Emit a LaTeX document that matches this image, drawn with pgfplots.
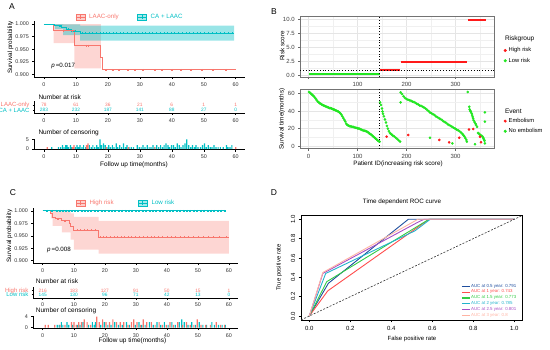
\documentclass[border=0pt]{standalone}
\usepackage{fontspec}
\setmainfont{Liberation Sans}
\usepackage{pgfplots}
\pgfplotsset{compat=1.18}
\definecolor{kmred}{HTML}{F8766D}
\definecolor{kmcyan}{HTML}{00BFC4}
\definecolor{bgreen}{HTML}{22E622}
\definecolor{bred}{HTML}{FF1A1A}
\definecolor{r1}{HTML}{1F4E9E}
\definecolor{r2}{HTML}{FF4D4D}
\definecolor{r3}{HTML}{33CC44}
\definecolor{r4}{HTML}{22B3CC}
\definecolor{r5}{HTML}{A64DC4}
\definecolor{r6}{HTML}{FFB3A3}
\newcommand{\fs}[1]{\fontsize{#1}{#1}\selectfont}
\pgfplotsset{
 base/.style={scale only axis, anchor=south west, /pgf/number format/assume math mode=true},
 gg/.style={base, axis x line*=bottom, axis y line*=left, axis line style={black, line width=0.5pt, -},
   tick align=outside, major tick length=2pt, tick style={black, line width=0.45pt},
   xmin=-3, xmax=63, xtick={0,10,...,60}, tick label style={font=\fs{5.4}, text=black!80}},
 bw/.style={base, axis line style={black!55, line width=0.5pt}, tick pos=left, tick align=outside,
   major tick length=2pt, minor tick length=0pt, tick style={black!60, line width=0.45pt},
   xmin=-17, xmax=380, grid=both, major grid style={black!10, line width=0.45pt},
   minor grid style={black!6, line width=0.25pt}, tick label style={font=\fs{6}, text=black!75}},
 rr/.style={base, axis line style={black, line width=0.5pt}, tick pos=left, tick align=outside,
   major tick length=2.5pt, tick style={black, line width=0.45pt},
   xmin=-0.04, xmax=1.04, ymin=-0.04, ymax=1.04,
   xtick={0,0.2,0.4,0.6,0.8,1}, xticklabels={0.0,0.2,0.4,0.6,0.8,1.0},
   ytick={0,0.2,0.4,0.6,0.8,1}, yticklabels={0.0,0.2,0.4,0.6,0.8,1.0},
   tick label style={font=\fs{6}}, yticklabel style={rotate=90, anchor=south}},
 kmkey/.style={legend image code/.code={\fill[#1, fill opacity=0.35] (0pt,-3pt) rectangle (9pt,3pt);
   \draw[#1, line width=0.9pt] (0pt,0pt)--(9pt,0pt); \draw[#1, line width=0.4pt] (4.5pt,-1.6pt)--(4.5pt,1.6pt);}},
 dotkey/.style={legend image code/.code={\fill[#1] (2.5pt,0pt) circle (1.3pt);}},
 rockey/.style={legend image code/.code={\draw[#1, line width=1.3pt] (0pt,0pt)--(8pt,0pt);}},
 numrow/.style={forget plot, draw=none, mark=none, nodes near coords, point meta=explicit symbolic,
   nodes near coords style={anchor=center, font=\fs{4.8}, text=#1, inner sep=0pt}},
 cens/.style={forget plot, ybar, bar width=0.38, bar shift=0pt, fill=#1, draw=none},
 cmark/.style={forget plot, only marks, mark=+, mark size=1.0pt, #1, mark options={line width=0.4pt}},
}
\begin{document}
\begin{tikzpicture}[x=1pt,y=1pt]
\path[use as bounding box] (0,0) rectangle (550,349);

% ================= Panel A =================
\begin{axis}[gg, at={(34.4pt,272.2pt)}, width=210.9pt, height=55.3pt, ymin=0.895, ymax=1.005,
  ytick={0.9,0.925,0.95,0.975,1}, yticklabels={0.900,0.925,0.950,0.975,1.000},
  legend columns=2, legend style={at={(0.453,1.081)}, anchor=center, draw=none, fill=none, font=\fs{6.2},
   /tikz/every even column/.append style={column sep=16pt}, /tikz/every odd column/.append style={column sep=2pt}}]
\addplot[forget plot, draw=none, fill=kmred, fill opacity=0.3] coordinates {(3,1)(17.8,1)(17.8,0.912)(9.5,0.912)(9.5,0.962)(3,0.962)};
\addplot[forget plot, draw=none, fill=kmcyan, fill opacity=0.4] coordinates {(3.4,1)(6,1)(6,0.9995)(11.3,0.9995)(11.3,0.9967)(59.5,0.9967)(59.5,0.967)(11.3,0.967)(11.3,0.978)(6,0.978)(6,0.99)(3.4,0.99)};
\addplot[forget plot, const plot, kmred, line width=1pt] coordinates {(0,1)(3,0.987)(9.5,0.957)(17.8,0.934)(18.3,0.909)(60,0.909)};
\addplot[forget plot, const plot, kmcyan, line width=1pt] coordinates {(0,1)(3.4,0.9965)(5.5,0.993)(7,0.9895)(8.5,0.986)(11.3,0.9815)(59.5,0.9815)};
\addplot[cmark=kmred] coordinates {(6,0.987)(8.8,0.987)(13.3,0.957)(13.8,0.957)(19.5,0.909)(21.5,0.909)(23.5,0.909)(26.4,0.909)(28.5,0.909)(31,0.909)(34.7,0.909)(37,0.909)(40,0.909)(43,0.909)(46,0.909)(49.5,0.909)(53,0.909)(57,0.909)};
\addplot[cmark=kmcyan] coordinates {(5,0.9965)(7.5,0.9895)(9.8,0.986)(12,0.9815)(13,0.9815)(14.2,0.9815)(15,0.9815)(16.3,0.9815)(17.5,0.9815)(18.4,0.9815)(19.6,0.9815)(20.5,0.9815)(21.8,0.9815)(22.6,0.9815)(23.9,0.9815)(24.8,0.9815)(26,0.9815)(27.2,0.9815)(28.5,0.9815)(29.6,0.9815)(30.6,0.9815)(31.8,0.9815)(32.9,0.9815)(34,0.9815)(35.1,0.9815)(36.3,0.9815)(37.5,0.9815)(38.6,0.9815)(39.8,0.9815)(40.9,0.9815)(42,0.9815)(43.2,0.9815)(44.4,0.9815)(45.5,0.9815)(46.7,0.9815)(47.8,0.9815)(49,0.9815)(50.2,0.9815)(51.3,0.9815)(52.5,0.9815)(53.8,0.9815)(55,0.9815)(56.3,0.9815)(57.6,0.9815)(58.8,0.9815)};
\addlegendimage{kmkey=kmred}\addlegendentry{\textcolor{kmred}{LAAC-only}}
\addlegendimage{kmkey=kmcyan}\addlegendentry{\textcolor{kmcyan}{CA + LAAC}}
\node[anchor=west, font=\fs{6.2}] at (axis cs:1.2,0.917) {\textit{p}\,=0.017};
\end{axis}

\begin{axis}[gg, at={(34.4pt,235.7pt)}, width=210.9pt, height=12pt, ymin=0, ymax=1, major tick length=1.5pt,
  ytick={0.275,0.67}, yticklabels={\textcolor{kmcyan}{CA + LAAC},\textcolor{kmred}{LAAC-only}}, yticklabel style={font=\fs{6}}]
\addplot[numrow=kmred] coordinates {(0,0.67)[78] (10,0.67)[61] (20,0.67)[36] (30,0.67)[21] (40,0.67)[6] (50,0.67)[1] (60,0.67)[1]};
\addplot[numrow=kmcyan] coordinates {(0,0.275)[283] (10,0.275)[232] (20,0.275)[187] (30,0.275)[141] (40,0.275)[88] (50,0.275)[27] (60,0.275)[0]};
\end{axis}

\begin{axis}[gg, at={(34.4pt,199.5pt)}, width=210.9pt, height=10.5pt, ymin=-0.25, ymax=5.25, ytick={0,5}]
\addplot[cens=kmcyan] coordinates {(2.4,1)(4.5,1)(5.2,1)(5.8,2)(6.3,1)(6.8,2)(7.2,2)(7.7,1)(8.3,2)(8.8,1)(9.8,1)(10.3,2)(10.8,1)(11.3,2)(11.9,1)(12.4,2)(13.1,1)(14.2,2)(14.8,1)(15.3,2)(15.9,1)(16.5,2)(17.0,1)(17.5,5)(18.0,2)(18.6,3)(19.2,2)(19.7,1)(20.3,2)(20.8,1)(21.4,2)(21.9,1)(22.6,3)(23.1,1)(23.7,2)(24.3,1)(24.9,3)(25.5,1)(26.0,2)(26.6,1)(27.3,1)(28.0,1)(29.2,2)(29.8,1)(30.4,1)(31.0,2)(31.6,1)(32.3,2)(32.9,1)(33.5,1)(34.1,2)(34.7,1)(35.3,2)(35.9,1)(36.5,2)(37.1,1)(37.6,2)(38.2,3)(38.8,2)(39.3,1)(39.9,2)(40.5,2)(41.1,1)(41.7,3)(42.3,2)(42.9,1)(43.5,2)(44.1,3)(44.7,5)(45.3,2)(45.9,1)(46.5,2)(47.1,1)(47.6,2)(48.2,1)(49.0,1)(49.6,2)(50.2,3)(50.8,1)(51.4,2)(52.0,1)(52.6,1)(53.2,2)(53.8,1)(54.5,1)(55.2,1)(56.1,1)(57.1,2)(57.6,1)(58.2,1)(58.8,2)};
\addplot[cens=kmred] coordinates {(1.0,1)(8.9,1)(9.4,2)(13.3,2)(13.8,3)(19.5,1)(26.4,1)(34.7,1)(60,1)};
\end{axis}

\node[font=\fs{8.5}] at (12,342) {A};
\node[rotate=90, font=\fs{6.3}] at (10.5,301.5) {Survival probability};
\node[anchor=west, font=\fs{6.5}] at (35,252.3) {Number at risk};
\node[anchor=west, font=\fs{6.5}] at (35,216.3) {Number of censoring};
\node[font=\fs{6.5}] at (134,184.5) {Follow up time(months)};

% ================= Panel C =================
\begin{axis}[gg, at={(33.4pt,85.8pt)}, width=204.9pt, height=54.9pt, ymin=0.895, ymax=1.005,
  ytick={0.9,0.925,0.95,0.975,1}, yticklabels={0.900,0.925,0.950,0.975,1.000},
  legend columns=2, legend style={at={(0.452,1.097)}, anchor=center, draw=none, fill=none, font=\fs{6.2},
   /tikz/every even column/.append style={column sep=22pt}, /tikz/every odd column/.append style={column sep=2pt}}]
\addplot[forget plot, draw=none, fill=kmred, fill opacity=0.3] coordinates {(2.6,1)(9,1)(9,0.995)(10,0.995)(10,0.988)(18,0.988)(18,0.98)(60,0.98)(60,0.914)(18,0.914)(18,0.922)(10,0.922)(10,0.942)(9,0.942)(9,0.957)(6.2,0.957)(6.2,0.970)(3.2,0.970)(3.2,0.985)(2.6,0.985)};
\addplot[forget plot, const plot, kmred, line width=1pt] coordinates {(0,1)(2.6,0.994)(3.2,0.987)(4.2,0.984)(6.2,0.980)(8.6,0.975)(9.0,0.969)(10.0,0.961)(18.0,0.947)(60,0.947)};
\addplot[forget plot, kmcyan, line width=1pt] coordinates {(0,1)(59,1)};
\addplot[cmark=kmred] coordinates {(5,0.984)(7.2,0.980)(11,0.961)(12,0.961)(13.4,0.961)(14.3,0.961)(15.5,0.961)(17,0.961)(18.6,0.947)(19.5,0.947)(20.6,0.947)(21.7,0.947)(22.9,0.947)(24,0.947)(25.2,0.947)(26.3,0.947)(27.5,0.947)(28.6,0.947)(29.8,0.947)(31,0.947)(32.3,0.947)(33.5,0.947)(34.8,0.947)(36,0.947)(37.3,0.947)(38.6,0.947)(40,0.947)(41.4,0.947)(42.8,0.947)(44.2,0.947)(45.6,0.947)(47,0.947)(48.5,0.947)(50,0.947)(51.6,0.947)(53.2,0.947)(55,0.947)(57,0.947)(59,0.947)};
\addplot[cmark=kmcyan] coordinates {(1.5,1)(3,1)(4.5,1)(5.5,1)(6.5,1)(7.5,1)(8.5,1)(9.5,1)(10.5,1)(11.5,1)(12.5,1)(13.5,1)(14.6,1)(15.7,1)(16.8,1)(17.9,1)(19,1)(20.1,1)(21.2,1)(22.3,1)(23.4,1)(24.5,1)(25.6,1)(26.7,1)(27.8,1)(28.9,1)(30,1)(31.1,1)(32.2,1)(33.3,1)(34.4,1)(35.5,1)(36.6,1)(37.7,1)(38.8,1)(39.9,1)(41,1)(42.1,1)(43.2,1)(44.3,1)(45.4,1)(46.5,1)(47.6,1)(48.7,1)(49.8,1)(50.9,1)(52,1)(53.1,1)(54.2,1)(55.3,1)(56.4,1)(57.5,1)(58.6,1)};
\addlegendimage{kmkey=kmred}\addlegendentry{\textcolor{kmred}{High risk}}
\addlegendimage{kmkey=kmcyan}\addlegendentry{\textcolor{kmcyan}{Low risk}}
\node[anchor=west, font=\fs{6.2}] at (axis cs:0.3,0.921) {\textit{p}\,=0.008};
\end{axis}

\begin{axis}[gg, at={(33.4pt,51pt)}, width=204.9pt, height=11pt, ymin=0, ymax=1, major tick length=1.5pt,
  ytick={0.32,0.68}, yticklabels={\textcolor{kmcyan}{Low risk},\textcolor{kmred}{High risk}}, yticklabel style={font=\fs{6}}]
\addplot[numrow=kmred] coordinates {(0,0.68)[216] (10,0.68)[183] (20,0.68)[127] (30,0.68)[91] (40,0.68)[50] (50,0.68)[15] (60,0.68)[1]};
\addplot[numrow=kmcyan] coordinates {(0,0.32)[145] (10,0.32)[130] (20,0.32)[96] (30,0.32)[71] (40,0.32)[42] (50,0.32)[13] (60,0.32)[0]};
\end{axis}

\begin{axis}[gg, at={(33.4pt,20.8pt)}, width=204.9pt, height=12.1pt, ymin=-0.2, ymax=4.2, ytick={0,4}]
\addplot[cens=kmcyan] coordinates {(4.7,1)(5.3,1)(6.0,2)(6.5,1)(7.8,2)(8.4,1)(9.7,1)(11.2,1)(12.0,1)(13.0,2)(14.8,1)(16.0,2)(16.6,1)(17.0,2)(18.7,1)(19.8,2)(21.0,1)(22.0,1)(23.2,2)(24.4,1)(25.6,1)(27.0,2)(28.0,1)(29.8,1)(31.0,2)(31.9,1)(33.0,1)(34.4,2)(35.6,1)(36.8,2)(38.0,1)(39.2,2)(40.4,1)(41.6,2)(42.7,1)(44.0,2)(44.8,3)(45.6,2)(46.8,1)(48.0,2)(49.2,1)(50.4,2)(51.6,1)(52.8,1)(54.5,2)(55.3,1)(56.6,1)(57.8,1)(58.8,1)};
\addplot[cens=kmred] coordinates {(0.8,1)(1.8,1)(3.9,1)(5.6,1)(7.2,1)(9.3,2)(10.1,2)(10.8,1)(11.6,2)(12.5,2)(13.4,3)(14.3,2)(15.5,1)(17.4,4)(18.2,2)(19.3,3)(20.4,2)(21.5,2)(22.6,3)(23.8,2)(25.0,2)(26.1,2)(27.5,1)(28.6,2)(29.3,3)(30.4,2)(31.5,1)(32.4,3)(33.5,2)(35.0,2)(36.2,1)(37.5,2)(38.6,1)(39.8,1)(41.0,2)(42.1,1)(43.5,2)(45.0,1)(46.3,2)(47.5,1)(48.7,1)(49.8,3)(51.0,1)(52.5,1)(54,1)(55.9,2)(57.3,1)(58.6,1)};
\end{axis}

\node[font=\fs{8.5}] at (13,156) {C};
\node[rotate=90, font=\fs{6.3}] at (9.5,113) {Survival probability};
\node[anchor=west, font=\fs{6.5}] at (32.3,68) {Number at risk};
\node[anchor=west, font=\fs{6.5}] at (32.3,38) {Number of censoring};
\node[font=\fs{6.5}] at (132.5,8.3) {Follow up time(months)};

% ================= Panel B =================
\begin{axis}[bw, at={(300.2pt,272.2pt)}, width=194.5pt, height=60.6pt, ymin=-0.2, ymax=10.5,
  xtick={0,100,200,300}, xticklabels={,100,200,300}, minor xtick={50,150,250,350},
  ytick={0,2.5,5,7.5,10}, yticklabels={0.0,2.5,5.0,7.5,10.0}, minor ytick={1.25,3.75,6.25,8.75},
  legend style={at={(1.03,0.55)}, anchor=north west, draw=none, fill=none, font=\fs{5.8}, row sep=0.5pt}, legend cell align=left]
\addplot[forget plot, bgreen, line width=1.7pt] coordinates {(1,0.3)(145,0.3)};
\addplot[forget plot, bred, line width=1.7pt] coordinates {(146,1.0)(187,1.0)};
\addplot[forget plot, bred, line width=1.7pt] coordinates {(188,2.42)(324,2.42)};
\addplot[forget plot, bred, line width=1.7pt] coordinates {(325,9.77)(362,9.77)};
\addplot[forget plot, black, line width=0.6pt, dash pattern=on 0.8pt off 2pt] coordinates {(-17,1)(380,1)};
\addplot[forget plot, black, line width=0.6pt, dash pattern=on 0.8pt off 2pt] coordinates {(144.5,-0.2)(144.5,10.5)};
\addlegendimage{dotkey=bred}\addlegendentry{High risk}
\addlegendimage{dotkey=bgreen}\addlegendentry{Low risk}
\end{axis}

\begin{axis}[bw, at={(300.2pt,200.4pt)}, width=194.5pt, height=59.6pt, ymin=-3, ymax=65.4,
  xtick={0,100,200,300}, minor xtick={50,150,250,350},
  ytick={0,20,40,60}, minor ytick={10,30,50},
  legend style={at={(1.03,0.58)}, anchor=north west, draw=none, fill=none, font=\fs{5.8}, row sep=0.5pt}, legend cell align=left]
\addplot[forget plot, only marks, mark=*, mark size=1.1pt, bgreen] coordinates {(1,62)(3,61)(5,60)(7,59)(9,58)(11,57)(13,55.5)(15,54)(17,52.5)(19,51)(21,50)(23,49)(25,48.5)(27,47.5)(29,47)(31,46.5)(33,46)(35,45.5)(37,45)(39,44.5)(41,44)(43,43.5)(45,43.5)(47,43)(49,42.5)(51,42)(53,41.5)(55,41)(57,40.5)(59,40)(61,39.5)(63,38.5)(65,37.5)(67,36)(69,34)(71,32)(73,30)(75,28)(77,25.5)(79,24)(81,23.5)(83,23)(85,22.5)(87,22.5)(89,22)(91,22)(93,21.5)(95,21)(97,21)(99,20.5)(101,20)(103,20)(105,19.5)(107,19)(109,18.5)(111,18)(113,17.5)(115,17.5)(117,17)(119,16.5)(121,16)(123,15)(125,14)(127,13.5)(129,12.5)(131,11.5)(133,10.5)(135,9.5)(137,8.5)(139,7.5)(141,6.5)(143,5.5)(145,5)
(146,50)(148,47)(150,43)(151,39.5)(152,37)(154,34)(156,30.5)(158,27)(160,23)(162,20)(164,17)(166,15)(168,14)(170,13)(172,12)(175,11)(178,9.5)(181,8)(184,6.5)(187,5)
(188,61.5)(191,59.5)(194,57)(197,55)(200,54)(203,53)(206,52.5)(209,52)(212,51)(215,50.5)(218,49.5)(221,48.5)(224,47.5)(227,46.5)(230,46)(233,45)(236,44)(239,43)(242,41.5)(245,40)(248,38.5)(251,37.5)(254,36.5)(257,35.5)(260,34)(263,33)(266,32)(269,31)(272,30)(275,28.5)(278,27.5)(281,26.5)(284,25)(287,24)(290,23)(293,22)(296,21)(299,20)(302,19)(305,18)(308,17)(311,15.5)(314,14)(316,12.5)(318,11)(320,9)(322,7)(323,5)
(325,62)(328,45)(329,42)(330,40.5)(331,39.5)(333,37.5)(334,35.5)(335,33.5)(336,31.5)(337,29.5)(339,27.5)(341,25.5)(342,24)(344,22)(346,15)(348,14)(350,13)(352,12)(354,11.5)(356,10)(357,9)(358,7.5)(359,6)
(188,50)(248,9.5)(293.5,3)(340,2)(360,38.6)(360,27.9)(360,3)};
\addplot[forget plot, only marks, mark=*, mark size=1.1pt, bred] coordinates {(159.5,10.7)(203.7,12.6)(267,6.9)(287,4.2)(307.7,9.5)(327.6,19)(336,19.5)(350,10.7)(352,4.2)};
\addplot[forget plot, black, line width=0.6pt, dash pattern=on 0.8pt off 2pt] coordinates {(144.5,-3)(144.5,65.4)};
\addlegendimage{dotkey=bred}\addlegendentry{Embolism}
\addlegendimage{dotkey=bgreen}\addlegendentry{No embolism}
\end{axis}

\node[font=\fs{8.5}] at (274,337) {B};
\node[rotate=90, font=\fs{6.3}] at (282,303) {Risk score};
\node[rotate=90, font=\fs{6.3}] at (282,230) {Survival time(months)};
\node[font=\fs{6.3}] at (398,184.7) {Patient ID(increasing risk score)};
\node[anchor=west, font=\fs{6.5}] at (501.5,310) {Riskgroup};
\node[anchor=west, font=\fs{6.5}] at (501.5,238) {Event};

% ================= Panel D =================
\begin{axis}[rr, at={(301.1pt,29.1pt)}, width=221.4pt, height=104.5pt,
  legend style={at={(0.72,0.355)}, anchor=north west, draw=none, fill=none, font=\fs{4.4}, row sep=0pt, inner sep=0.5pt, nodes={inner sep=0.6pt}}, legend cell align=left]
\addplot[forget plot, r1, line width=0.9pt] coordinates {(0,0)(0.093,0.338)(0.483,1)(1,1)};
\addplot[forget plot, r2, line width=0.9pt] coordinates {(0,0)(0.09,0.26)(0.584,1)(1,1)};
\addplot[forget plot, r3, line width=0.9pt] coordinates {(0,0)(0.085,0.355)(0.584,1)(1,1)};
\addplot[forget plot, r4, line width=0.9pt] coordinates {(0,0)(0.08,0.44)(0.515,0.88)(0.59,1)(1,1)};
\addplot[forget plot, r5, line width=0.9pt] coordinates {(0,0)(0.066,0.44)(0.53,0.97)(0.56,1)(1,1)};
\addplot[forget plot, r6, line width=0.9pt] coordinates {(0,0)(0.066,0.45)(0.53,1)(1,1)};
\addplot[forget plot, black!80, line width=0.6pt, dash pattern=on 2pt off 1.5pt] coordinates {(-0.04,-0.04)(1.04,1.04)};
\addlegendimage{rockey=r1}\addlegendentry{\textcolor{r1}{AUC at 0.5 year: 0.791}}
\addlegendimage{rockey=r2}\addlegendentry{\textcolor{r2}{AUC at 1 year: 0.743}}
\addlegendimage{rockey=r3}\addlegendentry{\textcolor{r3}{AUC at 1.5 year: 0.773}}
\addlegendimage{rockey=r4}\addlegendentry{\textcolor{r4}{AUC at 2 year: 0.785}}
\addlegendimage{rockey=r5}\addlegendentry{\textcolor{r5}{AUC at 2.5 year: 0.801}}
\addlegendimage{rockey=r6}\addlegendentry{\textcolor{r6}{AUC at 3 year: 0.8}}
\end{axis}

\node[font=\fs{8.5}] at (274,156) {D};
\node[font=\fs{6.3}] at (402,146.7) {Time dependent ROC curve};
\node[font=\fs{6}] at (412,10) {False positive rate};
\node[rotate=90, font=\fs{6}] at (279,81.3) {True positive rate};
\end{tikzpicture}
\end{document}
